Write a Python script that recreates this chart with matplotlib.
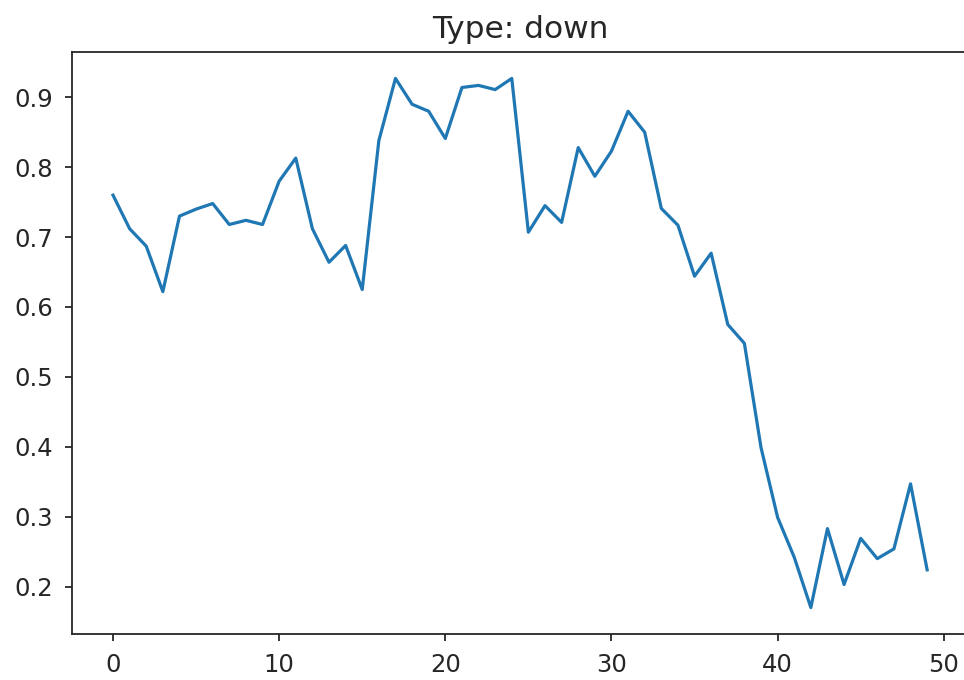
import matplotlib
matplotlib.use("Agg")
import matplotlib.pyplot as plt
import numpy as np

x = list(range(50))
values = [0.760, 0.712, 0.687, 0.622, 0.730, 0.740, 0.748, 0.718, 0.724, 0.718,
          0.780, 0.813, 0.712, 0.664, 0.688, 0.625, 0.838, 0.927, 0.890, 0.880,
          0.841, 0.914, 0.917, 0.911, 0.927, 0.707, 0.745, 0.721, 0.828, 0.787,
          0.823, 0.880, 0.850, 0.741, 0.717, 0.644, 0.677, 0.575, 0.548, 0.399,
          0.299, 0.242, 0.170, 0.283, 0.203, 0.269, 0.240, 0.254, 0.347, 0.224]
title = "Type: down"

fig = plt.figure(figsize=(9.64, 6.8), dpi=100)
ax = fig.add_axes([0.075, 0.0676, 0.929, 0.856])
ax.plot(x, values, color="#1f77b4", linewidth=2.3)
ax.set_title(title, fontsize=22.5, pad=10, color="#262626")
ax.set_xticks([0, 10, 20, 30, 40, 50])
ax.set_yticks([0.2, 0.3, 0.4, 0.5, 0.6, 0.7, 0.8, 0.9])
ax.set_yticklabels(["0.2", "0.3", "0.4", "0.5", "0.6", "0.7", "0.8", "0.9"])
ax.tick_params(labelsize=17.5, length=5, width=1.3, pad=9, colors="#262626")
for s in ax.spines.values():
    s.set_linewidth(1.3)
    s.set_color("#262626")
ax.spines["right"].set_visible(False)
fig.savefig("out.png", dpi=100)
